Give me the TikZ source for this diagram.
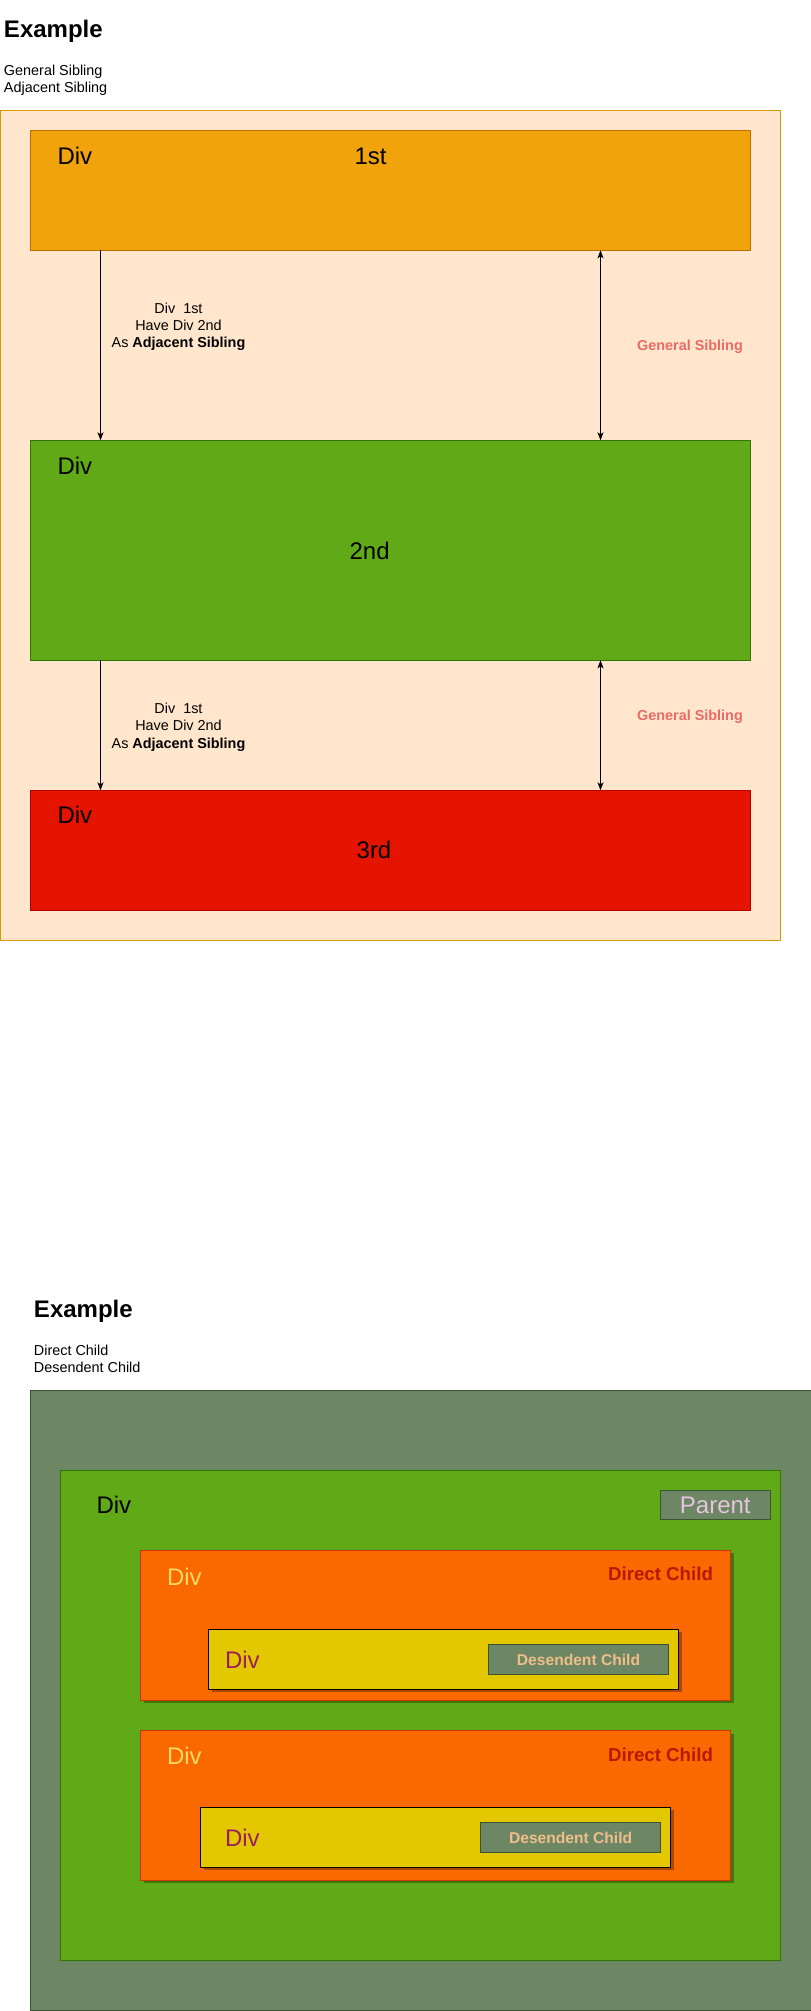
\documentclass[tikz,border=0pt]{standalone}
\usepackage{fontspec}
\setmainfont{Liberation Sans}
\usetikzlibrary{arrows.meta,shadows}

% palette
\definecolor{peachFill}{HTML}{FFE6CC}
\definecolor{peachLine}{HTML}{D79B00}
\definecolor{amberFill}{HTML}{F0A30A}
\definecolor{amberLine}{HTML}{BD7000}
\definecolor{leafFill}{HTML}{60A917}
\definecolor{leafLine}{HTML}{2D7600}
\definecolor{redFill}{HTML}{E51400}
\definecolor{redLine}{HTML}{B20000}
\definecolor{oliveFill}{HTML}{6D8764}
\definecolor{oliveLine}{HTML}{3A5431}
\definecolor{tangFill}{HTML}{FA6800}
\definecolor{tangLine}{HTML}{C73500}
\definecolor{goldFill}{HTML}{E3C800}
\definecolor{salmonText}{HTML}{EA6B66}
\definecolor{crimsonText}{HTML}{B51A00}
\definecolor{butterText}{HTML}{FFD966}
\definecolor{plumText}{HTML}{991F5E}
\definecolor{apricotText}{HTML}{F0BE8A}
\definecolor{lilacText}{HTML}{E6C3DF}

\newcommand\pxsize[2]{\fontsize{#1}{#2}\selectfont}

\tikzset{
  box/.style={draw, line width=1pt, inner sep=0pt, outer sep=0pt, anchor=north west},
  shadowed/.style={drop shadow={shadow xshift=3pt, shadow yshift=-3pt, fill=black, opacity=0.3}},
  txt/.style={inner sep=0pt, outer sep=0pt},
  divtxt/.style={txt, anchor=base west, font=\pxsize{24}{28.8}},
  bigtxt/.style={txt, anchor=base, font=\pxsize{24}{28.8}},
  heading/.style={txt, anchor=base west, font=\pxsize{24}{28.8}\bfseries},
  small/.style={txt, anchor=base west, font=\pxsize{14.4}{17.3}},
  note/.style={txt, align=center, font=\pxsize{14.4}{17.3}},
  tag/.style={txt, anchor=base, font=\pxsize{14.4}{17.3}\bfseries, text=salmonText},
  arr/.style={line width=1pt, -{Stealth[length=8pt,width=6pt,inset=2pt]}},
  darr/.style={line width=1pt, {Stealth[length=8pt,width=6pt,inset=2pt]}-{Stealth[length=8pt,width=6pt,inset=2pt]}},
}

\begin{document}
\begin{tikzpicture}[x=1pt, y=-1pt]
\useasboundingbox (0,0) rectangle (811,2011);
\fill[white] (0,0) rectangle (811,2011);
\clip (0,0) rectangle (811,2011);

% ---------- sibling example ----------
\node[heading] (ex1) at (4,37.3) {Example};
\node[small] (gsTitle) at (4,75) {General Sibling};
\node[small] (asTitle) at (4,92.3) {Adjacent Sibling};

\node[box, fill=peachFill, draw=peachLine, minimum width=779.5pt, minimum height=829.3pt] (wrap) at (0.5,110.7) {};

\node[box, fill=amberFill, draw=amberLine, minimum width=720.1pt, minimum height=120pt] (first) at (30.5,130.3) {};
\node[divtxt] (firstDiv) at (57.5,164.3) {Div};
\node[bigtxt] (firstName) at (370.6,164.3) {1st};

\node[box, fill=leafFill, draw=leafLine, minimum width=720.1pt, minimum height=220pt] (second) at (30.5,440.3) {};
\node[divtxt] (secondDiv) at (57.5,474) {Div};
\node[bigtxt] (secondName) at (369.6,559) {2nd};

\node[box, fill=redFill, draw=redLine, minimum width=720.1pt, minimum height=120pt] (third) at (30.5,790.3) {};
\node[divtxt] (thirdDiv) at (57.5,823.8) {Div};
\node[bigtxt] (thirdName) at (374,858.7) {3rd};

\coordinate (adjCol) at (100.5,0);
\coordinate (genCol) at (600.5,0);

\draw[arr] (first.south -| adjCol) -- (second.north -| adjCol);
\draw[darr] (first.south -| genCol) -- (second.north -| genCol);
\draw[arr] (second.south -| adjCol) -- (third.north -| adjCol);
\draw[darr] (second.south -| genCol) -- (third.north -| genCol);

\node[note] (adjNoteA) at (178.5,327) {Div\ \ 1st\\Have Div 2nd\\As \textbf{Adjacent Sibling}};
\node[note] (adjNoteB) at (178.5,727) {Div\ \ 1st\\Have Div 2nd\\As \textbf{Adjacent Sibling}};
\node[tag] (genTagA) at (690,350.7) {General Sibling};
\node[tag] (genTagB) at (690,720.5) {General Sibling};

% ---------- child example ----------
\node[heading] (ex2) at (34,1317.3) {Example};
\node[small] (dcTitle) at (34,1355) {Direct Child};
\node[small] (dsTitle) at (34,1372.3) {Desendent Child};

\node[box, fill=oliveFill, draw=oliveLine, minimum width=800pt, minimum height=619.6pt] (outer) at (30.5,1390.7) {};
\node[box, fill=leafFill, draw=leafLine, minimum width=719.5pt, minimum height=489.3pt] (parent) at (60.5,1470.7) {};
\node[divtxt] (parentDiv) at (96.5,1513.8) {Div};
\node[box, fill=oliveFill, draw=oliveLine, minimum width=109.3pt, minimum height=28.6pt] (parentTagBox) at (660.7,1490.7) {};
\node[bigtxt, text=lilacText] (parentTag) at (715.3,1513.6) {Parent};

% first direct child
\node[box, shadowed, fill=tangFill, draw=tangLine, minimum width=589.8pt, minimum height=150pt] (childA) at (140.7,1550.3) {};
\node[divtxt, text=butterText] (childADiv) at (167,1585) {Div};
\node[txt, anchor=base east, font=\pxsize{18.7}{22}\bfseries, text=crimsonText] (childATag) at (713,1580.7) {Direct Child};
\node[box, shadowed, fill=goldFill, draw=black, minimum width=470.2pt, minimum height=60pt] (grandA) at (208.5,1629.3) {};
\node[divtxt, text=plumText] (grandADiv) at (225,1668.3) {Div};
\node[box, fill=oliveFill, draw=oliveLine, minimum width=180.4pt, minimum height=30pt] (grandATagBox) at (488.3,1644.3) {};
\node[txt, anchor=base, font=\pxsize{15.6}{18}\bfseries, text=apricotText] (grandATag) at (578.5,1665) {Desendent Child};

% second direct child
\node[box, shadowed, fill=tangFill, draw=tangLine, minimum width=589.8pt, minimum height=149.6pt] (childB) at (140.7,1730.7) {};
\node[divtxt, text=butterText] (childBDiv) at (167,1764) {Div};
\node[txt, anchor=base east, font=\pxsize{18.7}{22}\bfseries, text=crimsonText] (childBTag) at (713,1761) {Direct Child};
\node[box, shadowed, fill=goldFill, draw=black, minimum width=469.8pt, minimum height=60pt] (grandB) at (200.7,1807.3) {};
\node[divtxt, text=plumText] (grandBDiv) at (225,1846) {Div};
\node[box, fill=oliveFill, draw=oliveLine, minimum width=180pt, minimum height=30.4pt] (grandBTagBox) at (480.6,1822.3) {};
\node[txt, anchor=base, font=\pxsize{15.6}{18}\bfseries, text=apricotText] (grandBTag) at (570.6,1843.3) {Desendent Child};
\end{tikzpicture}
\end{document}
